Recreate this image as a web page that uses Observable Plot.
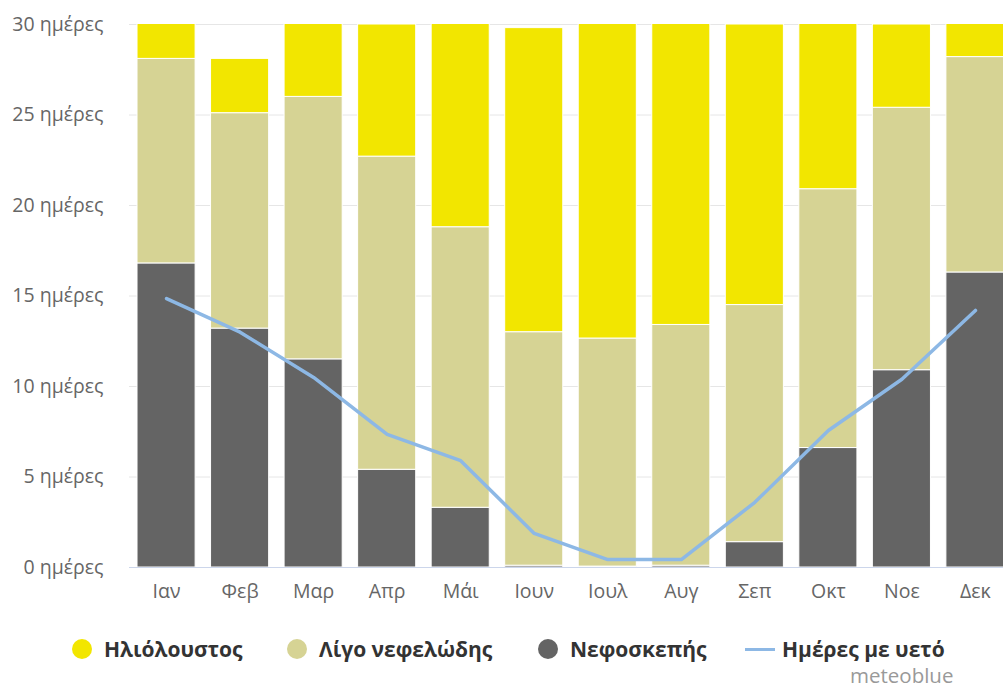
<!DOCTYPE html>
<html>
<head>
<meta charset="utf-8">
<script src="https://cdn.jsdelivr.net/npm/d3@7"></script>
<script src="https://cdn.jsdelivr.net/npm/@observablehq/plot@0.6"></script>
<style>
  html, body { margin: 0; padding: 0; background: #fff; }
  #wrap { position: relative; width: 1003px; height: 688px; font-family: "Open Sans", sans-serif; }
  .leg { position: absolute; top: 635px; font-size: 21px; font-weight: bold; color: #333; white-space: nowrap; line-height: 28px; }
  .dot { position: absolute; width: 20px; height: 20px; border-radius: 50%; top: 639px; }
  .lline { position: absolute; width: 30px; height: 3px; background: #8db8e5; top: 648px; }
  #credit { position: absolute; top: 665px; left: 850px; font-size: 20.5px; color: #999; line-height: 20px; }
</style>
</head>
<body>
<div id="wrap">
  <div id="chart"></div>
  <div class="dot" style="left:72px;background:#f2e600"></div>
  <div class="leg" style="left:104px">Ηλιόλουστος</div>
  <div class="dot" style="left:287px;background:#d6d394"></div>
  <div class="leg" style="left:319px">Λίγο νεφελώδης</div>
  <div class="dot" style="left:538px;background:#646464"></div>
  <div class="leg" style="left:570px">Νεφοσκεπής</div>
  <div class="lline" style="left:745px"></div>
  <div class="leg" style="left:782px">Ημέρες με υετό</div>
  <div id="credit">meteoblue</div>
</div>
<script>
const months = ["Ιαν","Φεβ","Μαρ","Απρ","Μάι","Ιουν","Ιουλ","Αυγ","Σεπ","Οκτ","Νοε","Δεκ"];
const overcast = [16.8, 13.2, 11.5, 5.4, 3.3, 0.1, 0.05, 0.1, 1.4, 6.6, 10.9, 16.3];
const partlyCloudy = [11.3, 11.9, 14.5, 17.3, 15.5, 12.9, 12.6, 13.3, 13.1, 14.3, 14.5, 11.9];
const sunny = [2.9, 3.0, 5.0, 7.3, 12.2, 16.8, 18.3, 17.6, 15.5, 10.1, 4.6, 2.8];
const precipDays = [14.86, 13.0, 10.5, 7.35, 5.9, 1.88, 0.44, 0.44, 3.6, 7.57, 10.4, 14.2];
const yTicks = [0, 5, 10, 15, 20, 25, 30];
const seriesNames = ["Νεφοσκεπής", "Λίγο νεφελώδης", "Ηλιόλουστος"];
const seriesColors = ["#646464", "#d6d394", "#f2e600"];

const bars = [];
months.forEach((m, i) => {
  bars.push({month: m, series: seriesNames[0], value: overcast[i]});
  bars.push({month: m, series: seriesNames[1], value: partlyCloudy[i]});
  bars.push({month: m, series: seriesNames[2], value: sunny[i]});
});
const rain = months.map((m, i) => ({month: m, value: precipDays[i]}));

const chart = Plot.plot({
  width: 1003,
  height: 620,
  marginLeft: 129,
  marginRight: -9,
  marginTop: 24,
  marginBottom: 53,
  style: {fontSize: "19.5px", fontFamily: "'Open Sans', sans-serif", color: "#666", background: "#fff"},
  x: {domain: months, round: false, paddingInner: 0.21, paddingOuter: 0.109, label: null, tickSize: 0, tickPadding: 17},
  y: {domain: [0, 30], ticks: yTicks, label: null, tickSize: 0, tickPadding: 26,
      tickFormat: d => d + " ημέρες"},
  color: {domain: seriesNames, range: seriesColors},
  marks: [
    Plot.gridY(yTicks, {stroke: "#e6e6e6", strokeOpacity: 1}),
    Plot.barY(bars, Plot.stackY({order: seriesNames}, {x: "month", y: "value", fill: "series", stroke: "white", strokeWidth: 1, clip: true})),
    Plot.ruleY([0], {stroke: "#ccd6eb"}),
    Plot.line(rain, {x: "month", y: "value", stroke: "#8db8e5", strokeWidth: 3.5})
  ]
});
document.getElementById("chart").appendChild(chart);
</script>
</body>
</html>
